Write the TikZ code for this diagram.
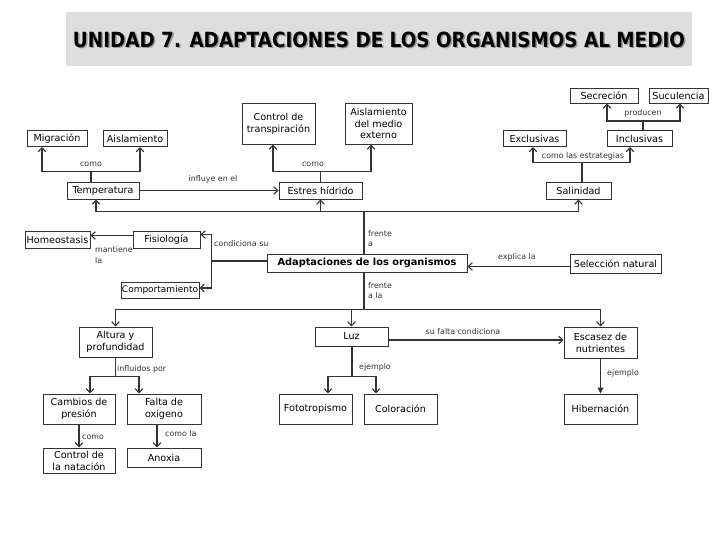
\documentclass[tikz,border=0pt]{standalone}
\usepackage{fontspec}
\usepackage{graphicx}
\setmainfont{DejaVu Sans}
\usetikzlibrary{arrows.meta}
\definecolor{ln}{HTML}{333333}
\definecolor{banner}{HTML}{DEDEDE}
\newcommand{\titletext}{\bfseries UNIDAD 7. ADAPTACIONES DE LOS ORGANISMOS AL MEDIO}
\begin{document}
\begin{tikzpicture}[x=1pt,y=-1pt,
  box/.style={draw=ln, line width=1pt, inner sep=0pt, align=center, font=\fontsize{9.6}{12}\selectfont, text=black},
  lab/.style={font=\fontsize{7.9}{10.5}\selectfont, text=ln, inner sep=0pt},
  conn/.style={draw=ln, line width=1.1pt},
  arr/.style={conn, -{Straight Barb[length=4pt,width=7.5pt]}},
  farr/.style={conn, -{Triangle[length=6pt,width=6pt]}},
]
\useasboundingbox (0,0) rectangle (728,546);
\fill[white] (0,0) rectangle (728,546);
% title banner
\fill[banner] (66,12) rectangle (692,66);
\node[text=black!40, inner sep=0pt] (tshadow) at (380.5,41) {\resizebox{612pt}{15.5pt}{\titletext}};
\node[text=black, inner sep=0pt] (title) at (379,39.5) {\resizebox{612pt}{15.5pt}{\titletext}};
% boxes
\node[box, minimum width=60, minimum height=16] (migr) at (57,138.5) {Migración};
\node[box, minimum width=64, minimum height=16] (aisl) at (135,138.5) {Aislamiento};
\node[box, minimum width=73, minimum height=41] (ctrl) at (278.5,123.5) {Control de\\transpiración};
\node[box, minimum width=67, minimum height=41, font=\fontsize{9.6}{11.5}\selectfont] (aismed) at (378.5,123.5) {Aislamiento\\del medio\\externo};
\node[box, minimum width=72, minimum height=17] (temp) at (103,190.5) {Temperatura};
\node[box, minimum width=83, minimum height=17] (estres) at (320.5,190.5) {Estres hídrido};
\node[box, minimum width=68, minimum height=15] (secr) at (604,95.5) {Secreción};
\node[box, minimum width=59, minimum height=15] (sucu) at (678.5,95.5) {Suculencia};
\node[box, minimum width=63, minimum height=16] (excl) at (534.5,138.5) {Exclusivas};
\node[box, minimum width=65, minimum height=16] (incl) at (639.5,138.5) {Inclusivas};
\node[box, minimum width=65, minimum height=17] (salin) at (578.5,190.5) {Salinidad};
\node[box, minimum width=65, minimum height=17] (homeo) at (57.5,239.5) {Homeostasis};
\node[box, minimum width=67, minimum height=17] (fisio) at (166.5,239.5) {Fisiología};
\node[box, minimum width=78, minimum height=16, font=\fontsize{9}{12}\selectfont] (comp) at (160,290) {Comportamiento};
\node[box, minimum width=200, minimum height=18, font=\fontsize{9.8}{12}\selectfont\bfseries] (adapt) at (367,263) {Adaptaciones de los organismos};
\node[box, minimum width=91, minimum height=19] (selec) at (615.5,263.5) {Selección natural};
\node[box, minimum width=73, minimum height=30] (altura) at (115.5,342) {Altura y\\profundidad};
\node[box, minimum width=73, minimum height=19] (luz) at (351.5,336.5) {Luz};
\node[box, minimum width=73, minimum height=31] (escasez) at (600.5,342.5) {Escasez de\\nutrientes};
\node[box, minimum width=72, minimum height=30] (cambios) at (79,409) {Cambios de\\presión};
\node[box, minimum width=74, minimum height=30] (falta) at (164,409) {Falta de\\oxigeno};
\node[box, minimum width=72, minimum height=25] (ctrlnat) at (79,460.5) {Control de\\la natación};
\node[box, minimum width=74, minimum height=19] (anoxia) at (164,457.5) {Anoxia};
\node[box, minimum width=73, minimum height=30] (foto) at (315.5,409) {Fototropismo};
\node[box, minimum width=73, minimum height=30] (color) at (400.5,409) {Coloración};
\node[box, minimum width=73, minimum height=30] (hiber) at (600.5,409) {Hibernación};
% Temperatura
\draw[arr] ([xshift=-12pt]temp.north) -- ++(0,-10) coordinate (tb) -| ([xshift=-15pt]migr.south);
\draw[arr] (tb) -| ([xshift=5pt]aisl.south);
\node[lab] (l1) at (91,164) {como};
% Estres
\draw[arr] (estres.north) -- ++(0,-10) coordinate (eb) -| ([xshift=-5.5pt]ctrl.south);
\draw[arr] (eb) -| ([xshift=-7.5pt]aismed.south);
\node[lab] (l2) at (313,164) {como};
% Salinidad
\draw[arr] ([xshift=3.5pt]salin.north) -- ++(0,-19) coordinate (sb) -| ([xshift=-1.5pt]excl.south);
\draw[arr] (sb) -| ([xshift=-9.5pt]incl.south);
\node[lab] (l3) at (583,156) {como las estrategias};
% Inclusivas
\draw[arr] ([xshift=3.5pt]incl.north) -- ++(0,-9) coordinate (ib) -| ([xshift=3pt]secr.south);
\draw[arr] (ib) -| ([xshift=1.5pt]sucu.south);
\node[lab] (l4) at (643,113) {producen};
% Temperatura -> Estres
\draw[arr] (temp.east) -- (estres.west);
\node[lab] (l5) at (213,179) {influye en el};
% Adaptaciones up
\draw[conn] ([xshift=-3pt]adapt.north) -- ++(0,-42) coordinate (au);
\draw[arr] (au) -| ([xshift=-7pt]temp.south);
\draw[arr] (au) -| (estres.south);
\draw[arr] (au) -| (salin.south);
\node[lab, anchor=west, align=left] (l6) at (368,238.5) {frente\\a};
% Adaptaciones down
\draw[conn] ([xshift=-3pt]adapt.south) -- ++(0,37) coordinate (ad);
\draw[arr] (ad) -| (altura.north);
\draw[arr] (ad) -| (luz.north);
\draw[arr] (ad) -| (escasez.north);
\node[lab, anchor=west, align=left] (l7) at (368,290.5) {frente\\a la};
% Adaptaciones left
\draw[conn] ([yshift=2pt]adapt.west) -- ++(-55,0) coordinate (br);
\draw[arr] (br) |- ([yshift=5pt]fisio.east);
\draw[arr] (br) |- ([yshift=2pt]comp.east);
\node[lab, anchor=west] (l8) at (214,244) {condiciona su};
% Fisiologia -> Homeostasis
\draw[arr] ([yshift=4pt]fisio.west) -- ([yshift=4pt]homeo.east);
\node[lab, anchor=west, align=left] (l9) at (95,255) {mantiene\\la};
% Seleccion -> Adaptaciones
\draw[arr] ([yshift=-3pt]selec.west) -- ([yshift=-3.5pt]adapt.east);
\node[lab] (l10) at (517,257) {explica la};
% Altura
\draw[arr] (altura.south) -- ++(0,19) coordinate (alb) -| ([xshift=11pt]cambios.north);
\draw[arr] (alb) -| ([xshift=-25pt]falta.north);
\node[lab, anchor=west] (l11) at (117,369) {influidos por};
\draw[arr] (cambios.south) -- (ctrlnat.north);
\node[lab, anchor=west] (l12) at (82,437) {como};
\draw[arr] ([xshift=-7pt]falta.south) -- ([xshift=-7pt]anoxia.north);
\node[lab, anchor=west] (l13) at (165,434) {como la};
% Luz
\draw[arr] ([xshift=0.5pt]luz.south) -- ++(0,30) coordinate (lb) -| ([xshift=12.5pt]foto.north);
\draw[arr] (lb) -| ([xshift=-24.5pt]color.north);
\node[lab] (l14) at (375,367) {ejemplo};
\draw[arr] ([yshift=-3.5pt]luz.east) -- ([yshift=2.5pt]escasez.west);
\node[lab] (l15) at (463,332) {su falta condiciona};
% Escasez -> Hibernacion
\draw[farr] (escasez.south) -- (hiber.north);
\node[lab, anchor=west] (l16) at (607,373) {ejemplo};
\end{tikzpicture}
\end{document}
